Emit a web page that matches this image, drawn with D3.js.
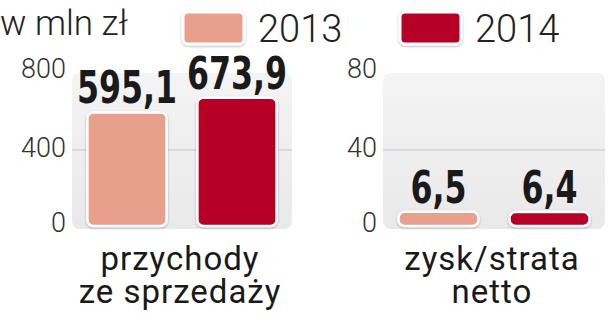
<!DOCTYPE html>
<html>
<head>
<meta charset="utf-8">
<script src="https://cdn.jsdelivr.net/npm/d3@7"></script>
<style>
  html, body { margin: 0; padding: 0; background: #fff; }
  svg { display: block; }
  .tick-label { font-family: Roboto, "Open Sans", sans-serif; font-weight: 300; font-size: 27px; fill: #333; }
  .value-label { font-family: "DejaVu Sans", sans-serif; font-weight: bold; font-size: 44px; fill: #1a1a1a; }
  .cat-label { font-family: Roboto, "Open Sans", sans-serif; font-weight: 400; font-size: 33px; letter-spacing: 1px; fill: #1a1a1a; }
  .legend-label { font-family: Roboto, "Open Sans", sans-serif; font-weight: 300; font-size: 38px; fill: #222; }
  .unit-label { font-family: Roboto, "Open Sans", sans-serif; font-weight: 300; font-size: 35px; fill: #222; }
</style>
</head>
<body>
<svg></svg>
<script>
window.addEventListener('DOMContentLoaded', () => {
  let svgWidth = 615
  let svgHeight = 336

  // data
  let years = ['2013', '2014']
  let categories = [['przychody', 'ze sprzedaży'], ['zysk/strata', 'netto']]
  let revenue = [595.1, 673.9]
  let profit = [6.5, 6.4]
  let revenueTicks = [0, 400, 800]
  let profitTicks = [0, 40, 80]
  let unit = 'w mln zł'

  let colors = ['#e8a08d', '#b70228']
  let pl = d3.formatLocale({ decimal: ',', thousands: ' ', grouping: [3], currency: ['', ' zł'] })
  let fmt = pl.format('.1f')

  let svg = d3.select('svg')
      .attr('width', svgWidth)
      .attr('height', svgHeight)

  /* defs: panel gradient + shadow */
  let defs = svg.append('defs')
  let grad = defs.append('linearGradient')
      .attr('id', 'panelGrad')
      .attr('x1', 0).attr('y1', 0).attr('x2', 0).attr('y2', 1)
  grad.append('stop').attr('offset', '0%').attr('stop-color', '#f4f4f4')
  grad.append('stop').attr('offset', '100%').attr('stop-color', '#e9e9e9')

  defs.append('filter')
      .attr('id', 'shadow')
      .attr('x', '-20%').attr('y', '-20%').attr('width', '140%').attr('height', '160%')
    .append('feDropShadow')
      .attr('dx', 0).attr('dy', 1)
      .attr('stdDeviation', 1.2)
      .attr('flood-color', '#000')
      .attr('flood-opacity', 0.3)

  let panels = [
    { values: revenue, ticks: revenueTicks, label: categories[0], x0: 72, x1: 292 },
    { values: profit, ticks: profitTicks, label: categories[1], x0: 383, x1: 605 }
  ]

  panels.forEach(p => drawPanel(p))

  function drawPanel(p) {
    let yScale = d3.scaleLinear()
        .domain(d3.extent(p.ticks))
        .range([225, 75])

    let xScale = d3.scaleBand()
        .domain(years)
        .range([p.x0, p.x1])
        .paddingInner(0.28)
        .paddingOuter(0.14)

    let g = svg.append('g')

    /* panel background */
    g.append('rect')
        .attr('x', p.x0)
        .attr('y', yScale(p.ticks[p.ticks.length - 1]) - 2)
        .attr('width', p.x1 - p.x0)
        .attr('height', yScale(0) - yScale(p.ticks[p.ticks.length - 1]) + 6)
        .attr('rx', 8)
        .attr('fill', 'url(#panelGrad)')

    /* mid gridline */
    g.selectAll('.grid')
      .data(p.ticks.slice(1, -1))
      .enter()
      .append('line')
        .attr('x1', p.x0)
        .attr('x2', p.x1)
        .attr('y1', d => yScale(d))
        .attr('y2', d => yScale(d))
        .attr('stroke', '#c4c4c4')
        .attr('stroke-width', 1.2)

    /* tick labels */
    g.selectAll('.tick-label')
      .data(p.ticks)
      .enter()
      .append('text')
        .classed('tick-label', true)
        .attr('x', p.x0 - 6)
        .attr('y', d => yScale(d))
        .attr('dy', (d, i) => i === p.ticks.length - 1 ? '0.1em' : '0.27em')
        .attr('text-anchor', 'end')
        .text(d => d)

    /* bars */
    g.selectAll('.bar')
      .data(p.values)
      .enter()
      .append('rect')
        .classed('bar', true)
        .attr('x', (d, i) => xScale(years[i]))
        .attr('y', d => yScale(d) - 1)
        .attr('width', xScale.bandwidth())
        .attr('height', d => yScale(0) - yScale(d) + 2)
        .attr('rx', d => Math.min(6, (yScale(0) - yScale(d) + 2) / 2))
        .attr('fill', (d, i) => colors[i])
        .attr('stroke', '#fff')
        .attr('stroke-width', 2.5)
        .attr('filter', 'url(#shadow)')

    /* value labels (condensed) */
    g.selectAll('.value-label')
      .data(p.values)
      .enter()
      .append('g')
        .attr('transform', (d, i) => `translate(${xScale(years[i]) + xScale.bandwidth() / 2}, ${yScale(d) - 10}) scale(0.72, 1)`)
      .append('text')
        .classed('value-label', true)
        .attr('text-anchor', 'middle')
        .text(d => fmt(d))

    /* category label */
    let cx = (p.x0 + p.x1) / 2 - 2
    g.append('text')
        .classed('cat-label', true)
        .attr('x', cx)
        .attr('y', 270)
        .attr('text-anchor', 'middle')
      .selectAll('tspan')
      .data(p.label)
      .enter()
      .append('tspan')
        .attr('x', cx)
        .attr('dy', (d, i) => i === 0 ? 0 : 33)
        .text(d => d)
  }

  /* legend */
  svg.append('text')
      .classed('unit-label', true)
      .attr('x', 0)
      .attr('y', 35)
      .text(unit)

  let legendX = [183, 400]
  let legend = svg.selectAll('.legend')
    .data(years)
    .enter()
    .append('g')
      .classed('legend', true)
      .attr('transform', (d, i) => `translate(${legendX[i]}, 12)`)

  legend.append('rect')
      .attr('width', 61)
      .attr('height', 32)
      .attr('rx', 5)
      .attr('fill', (d, i) => colors[i])
      .attr('stroke', '#fff')
      .attr('stroke-width', 3)
      .attr('filter', 'url(#shadow)')

  legend.append('text')
      .classed('legend-label', true)
      .attr('x', 75)
      .attr('y', 30)
      .text(d => d)
})
</script>
</body>
</html>
